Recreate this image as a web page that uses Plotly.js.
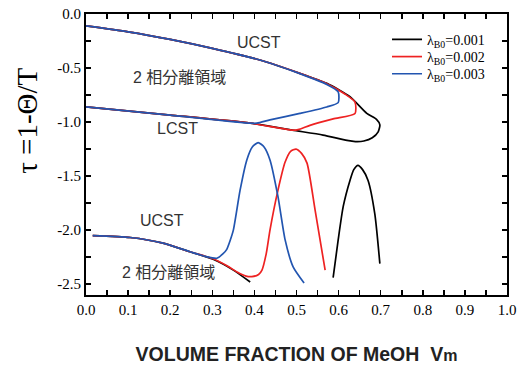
<!DOCTYPE html>
<html>
<head>
<meta charset="utf-8">
<script src="https://cdn.plot.ly/plotly-3.0.1.min.js"></script>
<style>html,body{margin:0;padding:0;background:#fff;}#chart{width:521px;height:367px;}</style>
</head>
<body>
<div id="chart"></div>
<script>
// Series labels
const seriesNames = ['λ<sub>B0</sub>=0.001', 'λ<sub>B0</sub>=0.002', 'λ<sub>B0</sub>=0.003'];

// Upper closed-loop curves (UCST upper branch -> LCST lower branch)
const blackUpperX = [0, 0.1, 0.2, 0.3, 0.413, 0.508, 0.572, 0.627, 0.667, 0.69, 0.698, 0.694, 0.68, 0.66, 0.64, 0.62, 0.563, 0.49, 0.39, 0.2, 0];
const blackUpperY = [-0.11, -0.165, -0.235, -0.318, -0.426, -0.549, -0.642, -0.765, -0.92, -0.975, -1.025, -1.09, -1.145, -1.175, -1.18, -1.17, -1.12, -1.075, -1.01, -0.935, -0.86];

const redUpperX = [0, 0.1, 0.2, 0.3, 0.413, 0.508, 0.572, 0.615, 0.639, 0.639, 0.587, 0.532, 0.504, 0.49, 0.39, 0.2, 0];
const redUpperY = [-0.11, -0.165, -0.235, -0.318, -0.426, -0.549, -0.645, -0.74, -0.815, -0.92, -0.97, -1.03, -1.07, -1.075, -1.01, -0.935, -0.86];

const blueUpperX = [0, 0.1, 0.2, 0.3, 0.413, 0.508, 0.572, 0.599, 0.599, 0.572, 0.508, 0.437, 0.406, 0.39, 0.2, 0];
const blueUpperY = [-0.11, -0.165, -0.235, -0.318, -0.426, -0.552, -0.652, -0.72, -0.82, -0.86, -0.92, -0.98, -1.01, -1.01, -0.935, -0.86];

// Lower curves
const blackLowerX = [0.016, 0.105, 0.183, 0.247, 0.302, 0.35, 0.39];
const blackLowerY = [-2.05, -2.068, -2.12, -2.2, -2.27, -2.37, -2.48];
const blackPeakX = [0.587, 0.599, 0.611, 0.627, 0.636, 0.646, 0.657, 0.67, 0.686, 0.698];
const blackPeakY = [-2.44, -2.09, -1.78, -1.54, -1.44, -1.4, -1.44, -1.54, -1.85, -2.31];

const redLowerX = [0.016, 0.105, 0.183, 0.247, 0.302, 0.335, 0.36, 0.38, 0.394, 0.41, 0.418, 0.428, 0.437, 0.456, 0.473, 0.486, 0.499, 0.512, 0.525, 0.544, 0.568];
const redLowerY = [-2.05, -2.068, -2.12, -2.2, -2.265, -2.33, -2.39, -2.425, -2.43, -2.41, -2.37, -2.22, -2.0, -1.63, -1.37, -1.27, -1.25, -1.29, -1.38, -1.81, -2.37];

const blueLowerX = [0.016, 0.105, 0.183, 0.247, 0.285, 0.311, 0.325, 0.334, 0.342, 0.35, 0.366, 0.382, 0.395, 0.409, 0.423, 0.437, 0.456, 0.473, 0.492, 0.518];
const blueLowerY = [-2.05, -2.068, -2.12, -2.2, -2.245, -2.26, -2.22, -2.18, -2.1, -2.0, -1.63, -1.35, -1.23, -1.19, -1.23, -1.35, -1.69, -2.09, -2.34, -2.49];

const colors = ['#000000', '#ee2222', '#2255b0'];

const xTickVals = [0, 0.1, 0.2, 0.3, 0.4, 0.5, 0.6, 0.7, 0.8, 0.9, 1.0];
const xTickText = ['0.0', '0.1', '0.2', '0.3', '0.4', '0.5', '0.6', '0.7', '0.8', '0.9', '1.0'];
const yTickVals = [0, -0.5, -1.0, -1.5, -2.0, -2.5];
const yTickText = ['0.0', '-0.5', '-1.0', '-1.5', '-2.0', '-2.5'];

const SERIF = '"Liberation Serif", "Times New Roman", serif';
const SANS = '"Liberation Sans", Arial, "Noto Sans CJK JP", sans-serif';

function join(...segs) {
  const out = [];
  segs.forEach((s, i) => { if (i > 0) out.push(null); out.push(...s); });
  return out;
}

const legendIds = ['legend', 'legend2', 'legend3'];
const traces = [
  {x: join(blackUpperX, blackLowerX, blackPeakX), y: join(blackUpperY, blackLowerY, blackPeakY)},
  {x: join(redUpperX, redLowerX), y: join(redUpperY, redLowerY)},
  {x: join(blueUpperX, blueLowerX), y: join(blueUpperY, blueLowerY)}
].map((t, i) => ({
  x: t.x, y: t.y, name: seriesNames[i], type: 'scatter', mode: 'lines',
  line: {color: colors[i], width: 1.7, shape: 'spline', smoothing: 0.6},
  connectgaps: false, legend: legendIds[i]
}));

const annotations = [
  {x: 0.41, y: -0.26, text: 'UCST'},
  {x: 0.223, y: -0.59, text: '2 相分離領域'},
  {x: 0.218, y: -1.06, text: 'LCST'},
  {x: 0.18, y: -1.91, text: 'UCST'},
  {x: 0.195, y: -2.39, text: '2 相分離領域'}
].map(a => Object.assign({xref: 'x', yref: 'y', showarrow: false,
  font: {family: SANS, size: 16, color: '#333'}}, a));

annotations.push({
  xref: 'paper', yref: 'paper', x: -0.14, y: 0.62, xanchor: 'center', yanchor: 'middle',
  text: 'τ =1-Θ/T', textangle: -90, showarrow: false,
  font: {family: SERIF, size: 29, color: '#000'}
});

function makeAxis(extra) {
  return Object.assign({
    showgrid: false, zeroline: false, showline: true, linecolor: '#000', linewidth: 2,
    mirror: 'allticks', ticks: 'inside', ticklen: 5, tickwidth: 1.5, tickcolor: '#000',
    tickfont: {family: SERIF, size: 15, color: '#000'}
  }, extra);
}

function makeLegend(yc) {
  return {
    x: 0.715, y: yc, xanchor: 'left', yanchor: 'middle',
    bgcolor: 'rgba(0,0,0,0)', borderwidth: 0,
    font: {family: SERIF, size: 14, color: '#000'}
  };
}

const layout = {
  width: 521, height: 367,
  margin: {l: 86, r: 14, t: 14, b: 72},
  paper_bgcolor: '#fff', plot_bgcolor: '#fff',
  font: {family: SERIF, size: 14, color: '#000'},
  showlegend: true,
  legend: makeLegend(0.908),
  legend2: makeLegend(0.847),
  legend3: makeLegend(0.786),
  xaxis: makeAxis({
    range: [0, 1], tickmode: 'array', tickvals: xTickVals, ticktext: xTickText,
    minor: {dtick: 0.05, ticks: 'inside', ticklen: 5, tickwidth: 1.5, tickcolor: '#000'},
    title: {text: '<b>VOLUME FRACTION OF MeOH  V<span style="font-size:16px">m</span></b>',
      font: {family: SANS, size: 19.5, color: '#222'}, standoff: 30}
  }),
  yaxis: makeAxis({
    range: [-2.6, 0], tickmode: 'array', tickvals: yTickVals, ticktext: yTickText,
    minor: {dtick: 0.25, ticks: 'inside', ticklen: 5, tickwidth: 1.5, tickcolor: '#000'}
  }),
  annotations: annotations
};

Plotly.newPlot('chart', traces, layout, {staticPlot: true, displayModeBar: false});
</script>
</body>
</html>
